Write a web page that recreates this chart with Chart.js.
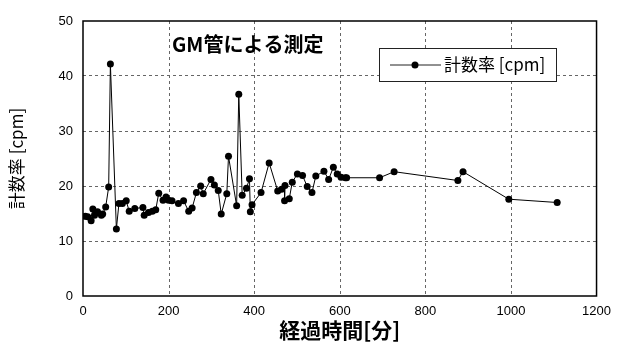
<!DOCTYPE html>
<html>
<head>
<meta charset="utf-8">
<script src="https://cdn.jsdelivr.net/npm/chart.js@4"></script>
<style>
  html, body { margin: 0; padding: 0; background: #fff; }
  #wrap { width: 619px; height: 343px; position: relative; }
</style>
</head>
<body>
<div id="wrap"><canvas id="gm"></canvas></div>
<script>
// elapsed time [min] and count rate [cpm]
const minutes = [
  5, 11, 19, 23, 27, 34, 43, 46, 53, 60, 64, 78, 84, 92, 101, 108, 121, 140, 143,
  153, 162, 170, 177, 187, 194, 200, 208, 223, 235, 247, 255, 265, 275, 281,
  299, 307, 316, 323, 336, 340, 359, 364, 372, 382, 389, 391, 395, 416, 435,
  455, 464, 472, 471, 482, 489, 501, 513, 524, 535, 544, 563, 574, 585, 594,
  603, 613, 616, 693, 727, 876, 888, 995, 1108
];
const cpm = [
  14.5, 14.4, 13.7, 15.8, 14.7, 15.3, 14.7, 14.9, 16.2, 19.8, 42.2, 12.2, 16.8, 16.8, 17.3, 15.4, 15.9, 16.1, 14.7,
  15.2, 15.4, 15.7, 18.7, 17.4, 18.0, 17.4, 17.3, 16.8, 17.3, 15.4, 16.0, 18.8, 20.0, 18.6,
  21.2, 20.2, 19.2, 14.9, 18.6, 25.4, 16.4, 36.7, 18.3, 19.6, 21.3, 15.3, 16.6, 18.8, 24.2,
  19.1, 19.4, 20.1, 17.3, 17.7, 20.7, 22.2, 21.9, 19.9, 18.8, 21.8, 22.7, 21.2, 23.4, 22.2,
  21.6, 21.5, 21.5, 21.5, 22.6, 21.0, 22.6, 17.6, 17.0
];
const seriesName = "計数率 [cpm]";
const chartTitle = "GM管による測定";
const xTitle = "経過時間[分]";
const xTicks = [0, 200, 400, 600, 800, 1000, 1200];
const yTicks = [0, 10, 20, 30, 40, 50];

const fontFace = "'Liberation Sans', 'Noto Sans CJK JP', sans-serif";
const jpFace = "'Noto Sans CJK JP', sans-serif";

// skip the grid lines lying on the frame
const gridColor = ctx => {
  const t = ctx.tick ? ctx.tick.value : null;
  const s = ctx.scale;
  return (t === s.min || t === s.max) ? "rgba(0,0,0,0)" : "#666";
};

// vertical dotted grid, built from small filled dashes
const xGrid = {
  id: "xGrid",
  beforeDatasetsDraw(chart) {
    const ctx = chart.ctx;
    const area = chart.chartArea;
    const xs = chart.scales.x;
    ctx.save();
    ctx.fillStyle = "#666";
    xTicks.slice(1, -1).forEach(v => {
      const px = Math.round(xs.getPixelForValue(v));
      for (let y = Math.round(area.top); y < area.bottom; y += 6) {
        ctx.fillRect(px, y, 1, Math.min(3, area.bottom - y));
      }
    });
    ctx.restore();
  }
};

// plot frame, title inside the plot and a boxed legend
const overlay = {
  id: "overlay",
  afterDraw(chart) {
    const ctx = chart.ctx;
    const area = chart.chartArea;
    ctx.save();

    ctx.strokeStyle = "#000";
    ctx.lineWidth = 1.5;
    ctx.strokeRect(area.left, area.top, area.right - area.left, area.bottom - area.top);

    ctx.fillStyle = "#000";
    ctx.font = "bold 20px " + jpFace;
    ctx.textAlign = "left";
    ctx.textBaseline = "middle";
    ctx.fillText(chartTitle, 172, 44);

    const bx = 379, by = 48, bw = 177, bh = 33;
    ctx.fillStyle = "#fff";
    ctx.fillRect(bx, by, bw, bh);
    ctx.strokeStyle = "#222";
    ctx.lineWidth = 1;
    ctx.strokeRect(bx + 0.5, by + 0.5, bw, bh);
    const ly = by + bh / 2 + 0.5;
    ctx.beginPath();
    ctx.moveTo(390, ly);
    ctx.lineTo(441, ly);
    ctx.stroke();
    ctx.fillStyle = "#000";
    ctx.beginPath();
    ctx.arc(415, ly, 3.5, 0, Math.PI * 2);
    ctx.fill();
    ctx.font = "17px " + jpFace;
    ctx.fillText(seriesName, 444, ly);
    ctx.restore();
  }
};

new Chart(document.getElementById("gm"), {
  type: "line",
  data: {
    datasets: [{
      label: seriesName,
      data: minutes.map((m, i) => ({ x: m, y: cpm[i] })),
      borderColor: "#000",
      backgroundColor: "#000",
      borderWidth: 1,
      pointRadius: 3.5,
      pointBorderWidth: 0,
      tension: 0
    }]
  },
  options: {
    responsive: true,
    maintainAspectRatio: false,
    animation: false,
    layout: { padding: { top: 21, right: 18, bottom: 0, left: 6 } },
    plugins: {
      legend: { display: false },
      tooltip: { enabled: false }
    },
    scales: {
      x: {
        type: "linear",
        min: 0,
        max: 1200,
        afterBuildTicks: s => { s.ticks = xTicks.map(v => ({ value: v })); },
        afterFit: s => { s.height = 47; },
        grid: { drawOnChartArea: false, drawTicks: false },
        border: { display: false },
        ticks: {
          color: "#000",
          padding: 8,
          callback: v => String(v),
          font: { family: fontFace, size: 13 }
        },
        title: {
          display: true,
          text: xTitle,
          color: "#000",
          padding: { top: 0, bottom: 0 },
          font: { family: jpFace, size: 21, weight: "bold" }
        }
      },
      y: {
        min: 0,
        max: 50,
        afterBuildTicks: s => { s.ticks = yTicks.map(v => ({ value: v })); },
        afterFit: s => { s.width = 77; },
        grid: { color: gridColor, lineWidth: 1, drawTicks: false },
        border: { display: false, dash: [3, 3] },
        ticks: {
          color: "#000",
          padding: 10,
          callback: v => String(v),
          font: { family: fontFace, size: 13 }
        },
        title: {
          display: true,
          text: seriesName,
          color: "#000",
          padding: { top: 0, bottom: 0 },
          font: { family: jpFace, size: 17 }
        }
      }
    }
  },
  plugins: [xGrid, overlay]
});
</script>
</body>
</html>
